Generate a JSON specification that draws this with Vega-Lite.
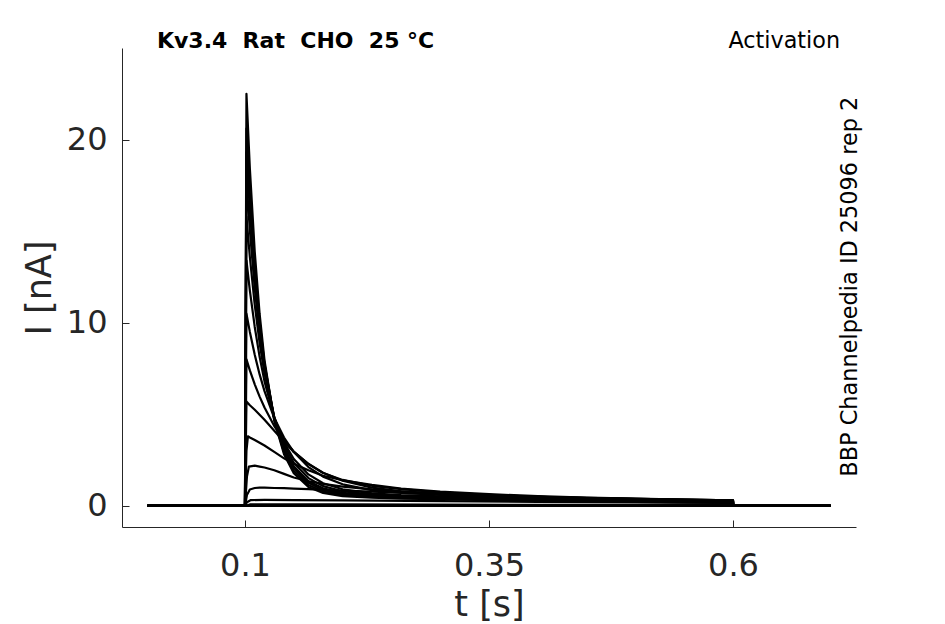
{
"$schema":"https://vega.github.io/schema/vega-lite/v6.json",
"width":734,"height":479,"autosize":"none",
"padding":{"left":122,"top":48,"right":89,"bottom":97},
"config":{"view":{"stroke":null},"font":"DejaVu Sans"},
"layer":[
{"data":{"values":[
{"s":1,"t":0,"i":0},{"s":1,"t":0.1,"i":0},{"s":1,"t":0.1015,"i":22.5},{"s":1,"t":0.105,"i":18.42},{"s":1,"t":0.11,"i":13.87},{"s":1,"t":0.115,"i":10.48},{"s":1,"t":0.12,"i":7.95},{"s":1,"t":0.13,"i":4.66},{"s":1,"t":0.14,"i":2.82},{"s":1,"t":0.15,"i":1.79},{"s":1,"t":0.165,"i":1.03},{"s":1,"t":0.18,"i":0.71},{"s":1,"t":0.2,"i":0.54},{"s":1,"t":0.23,"i":0.455},{"s":1,"t":0.26,"i":0.4},{"s":1,"t":0.3,"i":0.37},{"s":1,"t":0.35,"i":0.32},{"s":1,"t":0.4,"i":0.28},{"s":1,"t":0.45,"i":0.25},{"s":1,"t":0.5,"i":0.22},{"s":1,"t":0.55,"i":0.195},{"s":1,"t":0.6,"i":0.17},{"s":1,"t":0.6001,"i":0},{"s":1,"t":0.7,"i":0},
{"s":2,"t":0,"i":0},{"s":2,"t":0.1,"i":0},{"s":2,"t":0.1015,"i":20.6},{"s":2,"t":0.105,"i":17.06},{"s":2,"t":0.11,"i":13.08},{"s":2,"t":0.115,"i":10.05},{"s":2,"t":0.12,"i":7.76},{"s":2,"t":0.13,"i":4.7},{"s":2,"t":0.14,"i":2.94},{"s":2,"t":0.15,"i":1.92},{"s":2,"t":0.165,"i":1.14},{"s":2,"t":0.18,"i":0.79},{"s":2,"t":0.2,"i":0.59},{"s":2,"t":0.23,"i":0.49},{"s":2,"t":0.26,"i":0.44},{"s":2,"t":0.3,"i":0.4},{"s":2,"t":0.35,"i":0.35},{"s":2,"t":0.4,"i":0.31},{"s":2,"t":0.45,"i":0.27},{"s":2,"t":0.5,"i":0.24},{"s":2,"t":0.55,"i":0.21},{"s":2,"t":0.6,"i":0.19},{"s":2,"t":0.6001,"i":0},{"s":2,"t":0.7,"i":0},
{"s":3,"t":0,"i":0},{"s":3,"t":0.1,"i":0},{"s":3,"t":0.1015,"i":19.3},{"s":3,"t":0.105,"i":16.17},{"s":3,"t":0.11,"i":12.57},{"s":3,"t":0.115,"i":9.81},{"s":3,"t":0.12,"i":7.7},{"s":3,"t":0.13,"i":4.8},{"s":3,"t":0.14,"i":3.09},{"s":3,"t":0.15,"i":2.07},{"s":3,"t":0.165,"i":1.26},{"s":3,"t":0.18,"i":0.87},{"s":3,"t":0.2,"i":0.65},{"s":3,"t":0.23,"i":0.54},{"s":3,"t":0.26,"i":0.47},{"s":3,"t":0.3,"i":0.43},{"s":3,"t":0.35,"i":0.38},{"s":3,"t":0.4,"i":0.33},{"s":3,"t":0.45,"i":0.29},{"s":3,"t":0.5,"i":0.26},{"s":3,"t":0.55,"i":0.23},{"s":3,"t":0.6,"i":0.2},{"s":3,"t":0.6001,"i":0},{"s":3,"t":0.7,"i":0},
{"s":4,"t":0,"i":0},{"s":4,"t":0.1,"i":0},{"s":4,"t":0.1015,"i":17.8},{"s":4,"t":0.105,"i":15.04},{"s":4,"t":0.11,"i":11.88},{"s":4,"t":0.115,"i":9.4},{"s":4,"t":0.12,"i":7.49},{"s":4,"t":0.13,"i":4.8},{"s":4,"t":0.14,"i":3.17},{"s":4,"t":0.15,"i":2.17},{"s":4,"t":0.165,"i":1.35},{"s":4,"t":0.18,"i":0.96},{"s":4,"t":0.2,"i":0.71},{"s":4,"t":0.23,"i":0.58},{"s":4,"t":0.26,"i":0.5},{"s":4,"t":0.3,"i":0.46},{"s":4,"t":0.35,"i":0.4},{"s":4,"t":0.4,"i":0.36},{"s":4,"t":0.45,"i":0.31},{"s":4,"t":0.5,"i":0.28},{"s":4,"t":0.55,"i":0.24},{"s":4,"t":0.6,"i":0.22},{"s":4,"t":0.6001,"i":0},{"s":4,"t":0.7,"i":0},
{"s":5,"t":0,"i":0},{"s":5,"t":0.1,"i":0},{"s":5,"t":0.1015,"i":15.8},{"s":5,"t":0.105,"i":13.59},{"s":5,"t":0.11,"i":10.98},{"s":5,"t":0.115,"i":8.89},{"s":5,"t":0.12,"i":7.23},{"s":5,"t":0.13,"i":4.86},{"s":5,"t":0.14,"i":3.34},{"s":5,"t":0.15,"i":2.36},{"s":5,"t":0.165,"i":1.52},{"s":5,"t":0.18,"i":1.08},{"s":5,"t":0.2,"i":0.8},{"s":5,"t":0.23,"i":0.62},{"s":5,"t":0.26,"i":0.54},{"s":5,"t":0.3,"i":0.49},{"s":5,"t":0.35,"i":0.43},{"s":5,"t":0.4,"i":0.38},{"s":5,"t":0.45,"i":0.33},{"s":5,"t":0.5,"i":0.3},{"s":5,"t":0.55,"i":0.26},{"s":5,"t":0.6,"i":0.23},{"s":5,"t":0.6001,"i":0},{"s":5,"t":0.7,"i":0},
{"s":6,"t":0,"i":0},{"s":6,"t":0.1,"i":0},{"s":6,"t":0.1015,"i":13.4},{"s":6,"t":0.105,"i":11.75},{"s":6,"t":0.11,"i":9.77},{"s":6,"t":0.115,"i":8.14},{"s":6,"t":0.12,"i":6.8},{"s":6,"t":0.13,"i":4.81},{"s":6,"t":0.14,"i":3.46},{"s":6,"t":0.15,"i":2.56},{"s":6,"t":0.165,"i":1.72},{"s":6,"t":0.18,"i":1.24},{"s":6,"t":0.2,"i":0.91},{"s":6,"t":0.23,"i":0.69},{"s":6,"t":0.26,"i":0.59},{"s":6,"t":0.3,"i":0.52},{"s":6,"t":0.35,"i":0.46},{"s":6,"t":0.4,"i":0.4},{"s":6,"t":0.45,"i":0.36},{"s":6,"t":0.5,"i":0.31},{"s":6,"t":0.55,"i":0.28},{"s":6,"t":0.6,"i":0.24},{"s":6,"t":0.6001,"i":0},{"s":6,"t":0.7,"i":0},
{"s":7,"t":0,"i":0},{"s":7,"t":0.1,"i":0},{"s":7,"t":0.1015,"i":10.5},{"s":7,"t":0.105,"i":9.5},{"s":7,"t":0.11,"i":8.25},{"s":7,"t":0.115,"i":7.18},{"s":7,"t":0.12,"i":6.27},{"s":7,"t":0.13,"i":4.8},{"s":7,"t":0.14,"i":3.73},{"s":7,"t":0.15,"i":2.94},{"s":7,"t":0.165,"i":2.12},{"s":7,"t":0.18,"i":1.6},{"s":7,"t":0.2,"i":1.18},{"s":7,"t":0.23,"i":0.86},{"s":7,"t":0.26,"i":0.71},{"s":7,"t":0.3,"i":0.6},{"s":7,"t":0.35,"i":0.51},{"s":7,"t":0.4,"i":0.45},{"s":7,"t":0.45,"i":0.4},{"s":7,"t":0.5,"i":0.35},{"s":7,"t":0.55,"i":0.31},{"s":7,"t":0.6,"i":0.27},{"s":7,"t":0.6001,"i":0},{"s":7,"t":0.7,"i":0},
{"s":8,"t":0,"i":0},{"s":8,"t":0.1,"i":0},{"s":8,"t":0.1015,"i":8.0},{"s":8,"t":0.105,"i":7.4},{"s":8,"t":0.11,"i":6.64},{"s":8,"t":0.115,"i":5.97},{"s":8,"t":0.12,"i":5.37},{"s":8,"t":0.13,"i":4.36},{"s":8,"t":0.14,"i":3.58},{"s":8,"t":0.15,"i":2.97},{"s":8,"t":0.165,"i":2.28},{"s":8,"t":0.18,"i":1.81},{"s":8,"t":0.2,"i":1.38},{"s":8,"t":0.23,"i":1.0},{"s":8,"t":0.26,"i":0.8},{"s":8,"t":0.3,"i":0.66},{"s":8,"t":0.35,"i":0.55},{"s":8,"t":0.4,"i":0.47},{"s":8,"t":0.45,"i":0.42},{"s":8,"t":0.5,"i":0.37},{"s":8,"t":0.55,"i":0.33},{"s":8,"t":0.6,"i":0.29},{"s":8,"t":0.6001,"i":0},{"s":8,"t":0.7,"i":0},
{"s":9,"t":0,"i":0},{"s":9,"t":0.1,"i":0},{"s":9,"t":0.1015,"i":5.7},{"s":9,"t":0.105,"i":5.5},{"s":9,"t":0.11,"i":5.25},{"s":9,"t":0.115,"i":4.98},{"s":9,"t":0.12,"i":4.7},{"s":9,"t":0.13,"i":4.1},{"s":9,"t":0.14,"i":3.5},{"s":9,"t":0.15,"i":2.95},{"s":9,"t":0.165,"i":2.3},{"s":9,"t":0.18,"i":1.8},{"s":9,"t":0.2,"i":1.42},{"s":9,"t":0.23,"i":1.1},{"s":9,"t":0.26,"i":0.92},{"s":9,"t":0.3,"i":0.74},{"s":9,"t":0.35,"i":0.6},{"s":9,"t":0.4,"i":0.5},{"s":9,"t":0.45,"i":0.43},{"s":9,"t":0.5,"i":0.37},{"s":9,"t":0.55,"i":0.32},{"s":9,"t":0.6,"i":0.28},{"s":9,"t":0.6001,"i":0},{"s":9,"t":0.7,"i":0},
{"s":10,"t":0,"i":0},{"s":10,"t":0.1,"i":0},{"s":10,"t":0.1015,"i":3.0},{"s":10,"t":0.103,"i":3.8},{"s":10,"t":0.105,"i":3.74},{"s":10,"t":0.11,"i":3.6},{"s":10,"t":0.115,"i":3.45},{"s":10,"t":0.12,"i":3.3},{"s":10,"t":0.13,"i":2.95},{"s":10,"t":0.14,"i":2.6},{"s":10,"t":0.15,"i":2.3},{"s":10,"t":0.165,"i":1.95},{"s":10,"t":0.18,"i":1.65},{"s":10,"t":0.2,"i":1.4},{"s":10,"t":0.23,"i":1.15},{"s":10,"t":0.26,"i":0.95},{"s":10,"t":0.3,"i":0.78},{"s":10,"t":0.35,"i":0.64},{"s":10,"t":0.4,"i":0.54},{"s":10,"t":0.45,"i":0.46},{"s":10,"t":0.5,"i":0.4},{"s":10,"t":0.55,"i":0.35},{"s":10,"t":0.6,"i":0.31},{"s":10,"t":0.6001,"i":0},{"s":10,"t":0.7,"i":0},
{"s":11,"t":0,"i":0},{"s":11,"t":0.1,"i":0},{"s":11,"t":0.102,"i":1.6},{"s":11,"t":0.104,"i":2.15},{"s":11,"t":0.11,"i":2.2},{"s":11,"t":0.115,"i":2.15},{"s":11,"t":0.12,"i":2.1},{"s":11,"t":0.13,"i":1.95},{"s":11,"t":0.14,"i":1.75},{"s":11,"t":0.15,"i":1.55},{"s":11,"t":0.165,"i":1.35},{"s":11,"t":0.18,"i":1.2},{"s":11,"t":0.2,"i":1.05},{"s":11,"t":0.23,"i":0.9},{"s":11,"t":0.26,"i":0.8},{"s":11,"t":0.3,"i":0.68},{"s":11,"t":0.35,"i":0.58},{"s":11,"t":0.4,"i":0.5},{"s":11,"t":0.45,"i":0.44},{"s":11,"t":0.5,"i":0.38},{"s":11,"t":0.55,"i":0.34},{"s":11,"t":0.6,"i":0.3},{"s":11,"t":0.6001,"i":0},{"s":11,"t":0.7,"i":0},
{"s":12,"t":0,"i":0},{"s":12,"t":0.1,"i":0},{"s":12,"t":0.102,"i":0.6},{"s":12,"t":0.105,"i":0.9},{"s":12,"t":0.11,"i":0.98},{"s":12,"t":0.115,"i":1.0},{"s":12,"t":0.12,"i":1.0},{"s":12,"t":0.13,"i":0.98},{"s":12,"t":0.14,"i":0.97},{"s":12,"t":0.15,"i":0.95},{"s":12,"t":0.165,"i":0.92},{"s":12,"t":0.18,"i":0.88},{"s":12,"t":0.2,"i":0.84},{"s":12,"t":0.23,"i":0.78},{"s":12,"t":0.26,"i":0.72},{"s":12,"t":0.3,"i":0.64},{"s":12,"t":0.35,"i":0.56},{"s":12,"t":0.4,"i":0.49},{"s":12,"t":0.45,"i":0.43},{"s":12,"t":0.5,"i":0.38},{"s":12,"t":0.55,"i":0.34},{"s":12,"t":0.6,"i":0.3},{"s":12,"t":0.6001,"i":0},{"s":12,"t":0.7,"i":0},
{"s":13,"t":0,"i":0},{"s":13,"t":0.1,"i":0},{"s":13,"t":0.102,"i":0.2},{"s":13,"t":0.106,"i":0.32},{"s":13,"t":0.12,"i":0.33},{"s":13,"t":0.15,"i":0.32},{"s":13,"t":0.2,"i":0.3},{"s":13,"t":0.3,"i":0.26},{"s":13,"t":0.4,"i":0.22},{"s":13,"t":0.5,"i":0.19},{"s":13,"t":0.6,"i":0.16},{"s":13,"t":0.6001,"i":0},{"s":13,"t":0.7,"i":0},
{"s":14,"t":0,"i":0},{"s":14,"t":0.1,"i":0},{"s":14,"t":0.105,"i":0.08},{"s":14,"t":0.2,"i":0.08},{"s":14,"t":0.4,"i":0.06},{"s":14,"t":0.6,"i":0.05},{"s":14,"t":0.6001,"i":0},{"s":14,"t":0.7,"i":0},
{"s":15,"t":0,"i":0},{"s":15,"t":0.7,"i":0},
{"s":16,"t":0,"i":0},{"s":16,"t":0.7,"i":0}
]},
"mark":{"type":"line","color":"black","strokeWidth":2.2,"strokeJoin":"round"},
"encoding":{
"x":{"field":"t","type":"quantitative","scale":{"domain":[-0.026,0.726],"nice":false,"zero":false},
"axis":{"values":[0.1,0.35,0.6],"format":"~g","title":"t [s]","grid":false,"domainColor":"#262626","tickColor":"#262626","tickSize":-7,"labelPadding":30,"labelFontSize":32,"labelColor":"#262626","titleFontSize":35,"titleFontWeight":"normal","titleColor":"#262626","titlePadding":6,"labelFlush":false}},
"y":{"field":"i","type":"quantitative","scale":{"domain":[-1.15,25],"nice":false,"zero":false},
"axis":{"values":[0,10,20],"title":"I [nA]","grid":false,"domainColor":"#262626","tickColor":"#262626","tickSize":-7,"labelPadding":22,"labelFontSize":32,"labelColor":"#262626","titleFontSize":35,"titleFontWeight":"normal","titleColor":"#262626","titlePadding":9}},
"detail":{"field":"s","type":"nominal"},
"order":{"field":"t","type":"quantitative"}
}},
{"data":{"values":[{"x":0.0098,"y":25,"label":"Kv3.4\u00a0 Rat\u00a0 CHO\u00a0 25 °C"}]},
"mark":{"type":"text","fontWeight":"bold","fontSize":22,"align":"left","baseline":"alphabetic","color":"black"},
"encoding":{"x":{"field":"x","type":"quantitative"},"y":{"field":"y","type":"quantitative"},"text":{"field":"label"}}},
{"data":{"values":[{"x":0.7097,"y":25,"label":"Activation"}]},
"mark":{"type":"text","fontSize":22.3,"align":"right","baseline":"alphabetic","color":"black"},
"encoding":{"x":{"field":"x","type":"quantitative"},"y":{"field":"y","type":"quantitative"},"text":{"field":"label"}}},
{"data":{"values":[{"x":0.72,"y":11.97,"label":"BBP Channelpedia ID 25096 rep 2"}]},
"mark":{"type":"text","fontSize":22.4,"align":"center","baseline":"middle","angle":270,"color":"black"},
"encoding":{"x":{"field":"x","type":"quantitative"},"y":{"field":"y","type":"quantitative"},"text":{"field":"label"}}}
]
}
